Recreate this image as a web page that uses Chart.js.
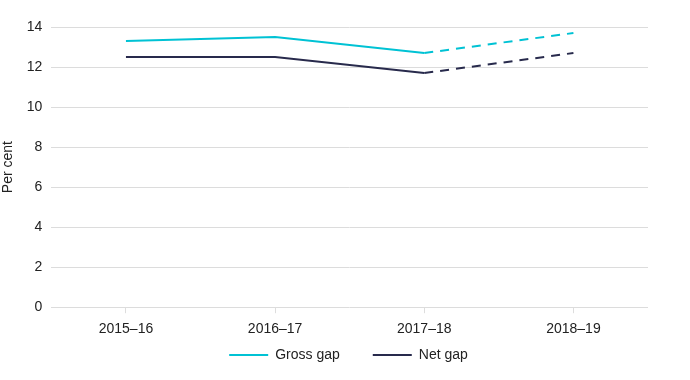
<!DOCTYPE html>
<html><head><meta charset="utf-8">
<script src="https://cdn.jsdelivr.net/npm/chart.js@4/dist/chart.umd.min.js"></script>
<style>html,body{margin:0;padding:0;background:#fff}#wrap{width:690px;height:380px}</style>
</head><body><div id="wrap"><canvas id="c"></canvas></div>
<script>
const categories = ['2015–16','2016–17','2017–18','2018–19'];
const grossGap = [13.3, 13.5, 12.7, 13.7];
const netGap = [12.5, 12.5, 11.7, 12.7];
const yTicks = [0,2,4,6,8,10,12,14];
const estimateFrom = 2; // segments from this index onward are dashed

const dashSeg = {borderDash: ctx => ctx.p0DataIndex >= estimateFrom ? [9,7] : undefined};
Chart.defaults.font.family = '"Liberation Sans", Arial, sans-serif';
Chart.defaults.font.size = 14;
Chart.defaults.color = '#222';
const legendShift = {
  id: 'legendShift',
  afterLayout(chart) { const lg = chart.legend; if (lg) { lg.top -= 31; lg.left += 24; lg.right += 25; } }
};
new Chart(document.getElementById('c'), {
  type: 'line',
  data: {labels: categories, datasets: [
    {label: 'Gross gap', data: grossGap, borderColor: '#00c2d4', backgroundColor: '#00c2d4', borderWidth: 2, pointRadius: 0, tension: 0, segment: dashSeg},
    {label: 'Net gap', data: netGap, borderColor: '#282a4c', backgroundColor: '#282a4c', borderWidth: 2, pointRadius: 0, tension: 0, segment: dashSeg}
  ]},
  plugins: [legendShift],
  options: {
    responsive: true, maintainAspectRatio: false, animation: false,
    layout: {padding: {left: 0, right: 42, top: 27, bottom: 8}},
    plugins: {
      legend: {position: 'bottom', maxHeight: 26, labels: {boxWidth: 39, boxHeight: 2, padding: 33,
        generateLabels: ch => Chart.defaults.plugins.legend.labels.generateLabels(ch).map(l => Object.assign(l, {lineWidth: 0}))}},
      tooltip: {enabled: false}
    },
    scales: {
      x: {offset: true, grid: {display: true, drawOnChartArea: false, drawTicks: true, tickLength: 6, color: '#ddd'}, border: {display: false}, ticks: {padding: 8}},
      y: {min: 0, max: 14, afterBuildTicks: s => { s.ticks = yTicks.map(v => ({value: v})); },
          grid: {color: '#dcdcdc', drawTicks: false}, border: {display: false},
          ticks: {padding: 9},
          title: {display: true, text: 'Per cent', padding: {top: 0, bottom: 1}}}
    }
  }
});
</script></body></html>
